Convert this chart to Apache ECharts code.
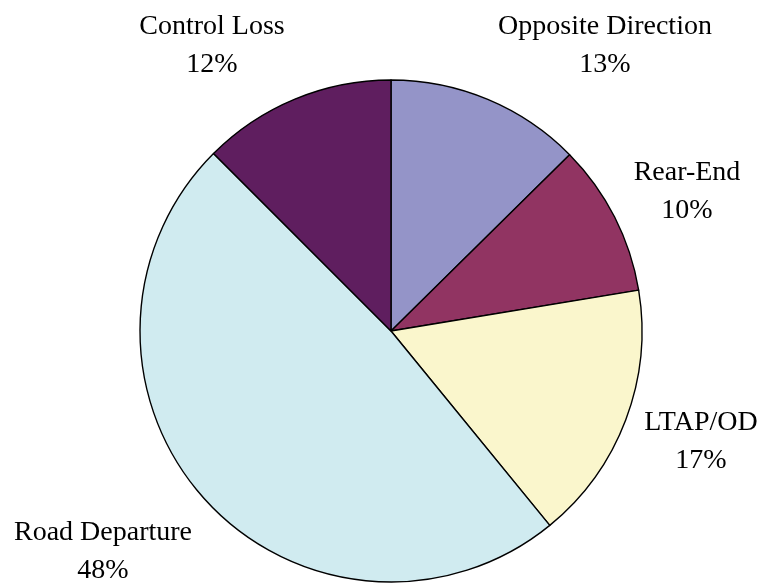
<!DOCTYPE html>
<html>
<head>
<meta charset="utf-8">
<script src="https://cdn.jsdelivr.net/npm/echarts@6/dist/echarts.min.js"></script>
<style>
  html, body { margin: 0; padding: 0; background: #fff; }
  #main { width: 768px; height: 588px; }
</style>
</head>
<body>
<div id="main"></div>
<script>
// slice order clockwise from 12 o'clock (shares in %)
const categories = ['Opposite Direction', 'Rear-End', 'LTAP/OD', 'Road Departure', 'Control Loss'];
const shares = [12.6, 9.8, 16.7, 48.4, 12.5];
const colors = ['#9494C8', '#913462', '#FAF6CC', '#D0EBF0', '#5F1E5F'];

// where each label block sits (centre), same order as categories
const labelPos = [[605, 46], [687, 192], [701, 442], [103, 552], [212, 46]];

const chart = echarts.init(document.getElementById('main'));

chart.setOption({
    animation: false,
    series: [{
        type: 'pie',
        center: [391, 331],
        radius: 251,
        startAngle: 90,
        clockwise: true,
        percentPrecision: 0,
        avoidLabelOverlap: false,
        data: categories.map((name, i) => ({
            name: name,
            value: shares[i],
            itemStyle: {color: colors[i]}
        })),
        itemStyle: {
            borderColor: '#000',
            borderWidth: 1.4
        },
        label: {
            show: true,
            position: 'outside',
            formatter: '{b}\n{d}%',
            fontFamily: 'Liberation Serif',
            fontSize: 28,
            lineHeight: 38,
            color: '#000',
            align: 'center'
        },
        labelLine: {show: false},
        labelLayout: function (params) {
            const p = labelPos[params.dataIndex];
            return {x: p[0], y: p[1], align: 'center', verticalAlign: 'middle'};
        },
        emphasis: {disabled: true}
    }]
});
</script>
</body>
</html>
